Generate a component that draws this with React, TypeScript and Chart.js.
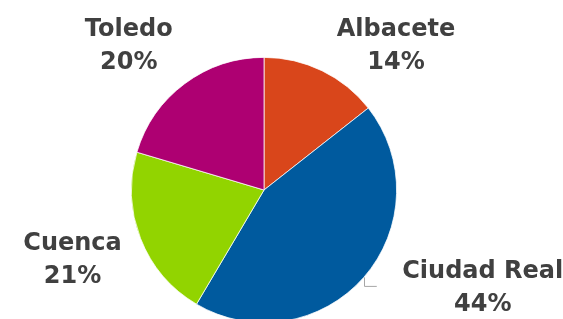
import React, { useEffect, useRef } from "react";
import { Chart, registerables } from "chart.js";

Chart.register(...registerables);

const categories = ["Albacete", "Ciudad Real", "Cuenca", "Toledo"];
const values = [14.4, 44.1, 21.1, 20.4];
const colors = ["#D9461B", "#005A9E", "#92D400", "#AE0072"];
// label placement relative to the outer midpoint of each slice (dx, dy to first baseline)
const labelOffsets = [
  [74, -34.5],
  [119, 0.5],
  [-68, 11.5],
  [-56, -47.5],
];
const leaderLines = [false, true, false, false];

const labelPlugin = {
  id: "pieLabels",
  afterDraw(chart: any) {
    const ctx = chart.ctx;
    const meta = chart.getDatasetMeta(0);
    const data = chart.data.datasets[0].data as number[];
    const total = data.reduce((a, b) => a + b, 0);
    ctx.save();
    meta.data.forEach((arc: any, i: number) => {
      const { x, y, startAngle, endAngle, outerRadius } = arc.getProps(
        ["x", "y", "startAngle", "endAngle", "outerRadius"],
        true
      );
      const mid = (startAngle + endAngle) / 2;
      const px = x + Math.cos(mid) * outerRadius;
      const py = y + Math.sin(mid) * outerRadius;
      const lx = px + labelOffsets[i][0];
      const ly = py + labelOffsets[i][1];
      if (leaderLines[i]) {
        ctx.strokeStyle = "#A6A6A6";
        ctx.lineWidth = 1;
        ctx.beginPath();
        ctx.moveTo(Math.round(px) + 0.5, py);
        ctx.lineTo(Math.round(px) + 0.5, py + 9);
        ctx.lineTo(px + 13, py + 9);
        ctx.stroke();
      }
      ctx.fillStyle = "#404040";
      ctx.font = "bold 24px 'DejaVu Sans'";
      ctx.textAlign = "center";
      ctx.textBaseline = "alphabetic";
      ctx.fillText(categories[i], lx, ly);
      ctx.fillText(Math.round((data[i] / total) * 100) + "%", lx, ly + 33);
    });
    ctx.restore();
  },
};

export default function App() {
  const ref = useRef<HTMLCanvasElement | null>(null);
  useEffect(() => {
    if (!ref.current) return;
    const chart = new Chart(ref.current, {
      type: "pie",
      data: {
        labels: categories,
        datasets: [
          {
            data: values,
            backgroundColor: colors,
            borderColor: "#FFFFFF",
            borderWidth: 0.75,
          },
        ],
      },
      options: {
        animation: false,
        responsive: true,
        maintainAspectRatio: false,
        layout: { padding: { left: 131, right: 166, top: 57, bottom: 57 } },
        plugins: {
          legend: { display: false },
          tooltip: { enabled: false },
        },
      },
      plugins: [labelPlugin],
    });
    return () => chart.destroy();
  }, []);
  return (
    <div
      style={{
        position: "fixed",
        left: 0,
        top: 0,
        width: 563,
        height: 319,
        overflow: "hidden",
        background: "#fff",
      }}
    >
      <div style={{ position: "absolute", left: 0, top: 0, width: 563, height: 380 }}>
        <canvas ref={ref} />
      </div>
    </div>
  );
}
